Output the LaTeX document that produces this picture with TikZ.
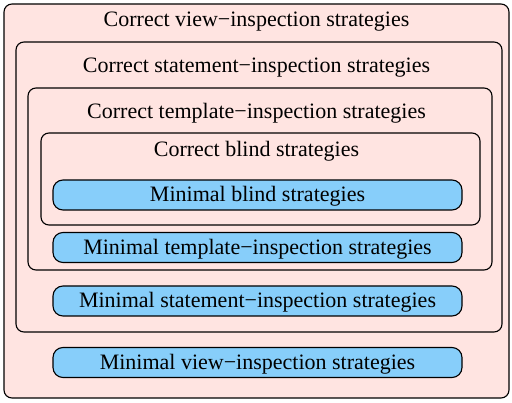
\documentclass[tikz,border=0pt]{standalone}
\usepackage{fontspec}
\setmainfont{Liberation Serif}
\usetikzlibrary{positioning}
\definecolor{correctpink}{RGB}{255, 228, 225}
\definecolor{minimalblue}{RGB}{135, 206, 250}

\begin{document}
\begin{tikzpicture}[
    x=1pt, y=-1pt,
    font=\fontsize{22}{26}\selectfont,
    correct/.style={draw, line width=1.1pt, fill=correctpink, rounded corners=8pt, inner sep=0pt},
    minimal/.style={draw, line width=1.1pt, fill=minimalblue, rounded corners=10pt, minimum width=409pt, minimum height=30pt, inner sep=0pt, text height=14pt, text depth=0pt},
    title/.style={inner sep=0pt, anchor=base}
]
\useasboundingbox (0,0) rectangle (512,403);

% Nested sets of correct strategies
\node[correct, minimum width=505pt, minimum height=394pt] (view) at (256.5,201) {};
\node[correct, minimum width=486pt, minimum height=290pt] (statement) at (259,187) {};
\node[correct, minimum width=464pt, minimum height=182pt] (template) at (260,179) {};
\node[correct, minimum width=439pt, minimum height=92pt] (blind) at (260.5,179) {};

% Titles
\node[title] (viewtitle) at (256.5,27) {Correct view−inspection strategies};
\node[title] (statementtitle) at (256.5,73) {Correct statement−inspection strategies};
\node[title] (templatetitle) at (256.5,119) {Correct template−inspection strategies};
\node[title] (blindtitle) at (256.5,157) {Correct blind strategies};

% Minimal strategies
\node[minimal] (minblind) at (257.5,195) {Minimal blind strategies};
\node[minimal] (mintemplate) at (257.5,247.5) {Minimal template−inspection strategies};
\node[minimal] (minstatement) at (257.5,301) {Minimal statement−inspection strategies};
\node[minimal] (minview) at (257.5,362.5) {Minimal view−inspection strategies};

\end{tikzpicture}
\end{document}
